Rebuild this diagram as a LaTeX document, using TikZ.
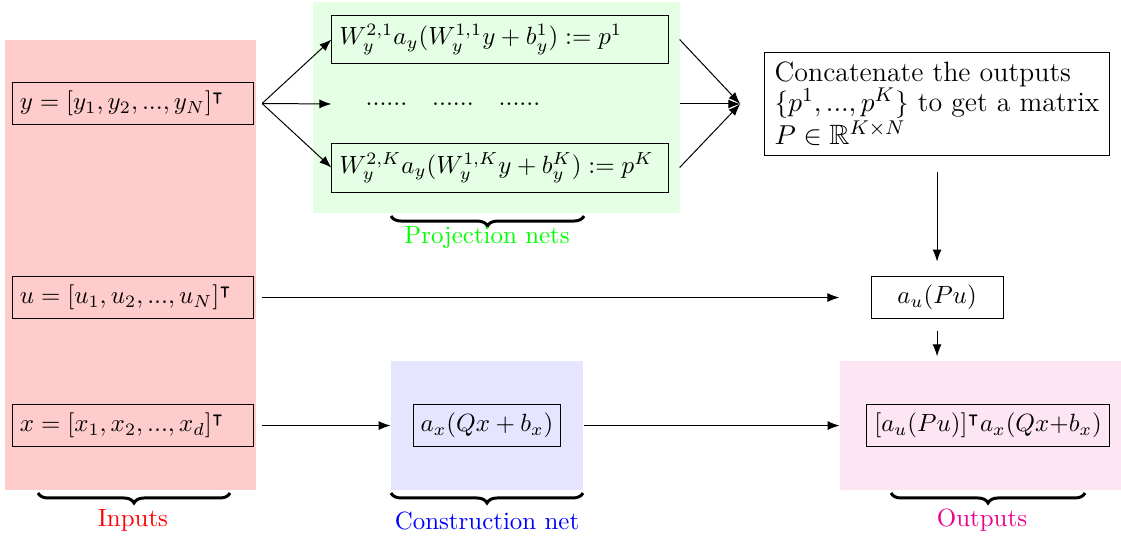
\documentclass[tikz,border=0pt]{standalone}
\usepackage{amsmath,amssymb}
\usepackage{xcolor}
\usepackage{tikz}
\usetikzlibrary{positioning,arrows.meta,decorations.pathreplacing}
\definecolor{outpink}{RGB}{236,0,140}

\begin{document}
\begin{tikzpicture}[
  box/.style={draw, minimum height=5.8mm, inner sep=3pt},
  inbox/.style={box, text width=31.9mm, align=left},
  projbox/.style={box, text width=45.3mm, minimum height=6.9mm, align=left},
  bg/.style={fill=#1, inner sep=0pt},
  arr/.style={-Latex},
  brc/.style={decorate, decoration={brace, amplitude=4pt}, very thick},
]
\useasboundingbox (0,0) rectangle (15.806,-7.586);

% coloured groups
\node[bg=red!20, minimum width=35.39mm, minimum height=63.45mm] (inbg) at (1.840,-3.737) {};
\node[bg=green!10, minimum width=51.75mm, minimum height=29.75mm] (projbg) at (7.001,-1.516) {};
\node[bg=blue!10, minimum width=27.07mm, minimum height=18.19mm] (consbg) at (6.867,-6.0) {};
\node[bg=outpink!10, minimum width=39.62mm, minimum height=18.19mm] (outbg) at (13.825,-6.0) {};

\node[inbox] (y) at (1.875,-1.459) {$y=[y_1,y_2,...,y_N]^\intercal$};
\node[inbox] (u) at (1.875,-4.195) {$u=[u_1,u_2,...,u_N]^\intercal$};
\node[inbox] (x) at (1.875,-6.0) {$x=[x_1,x_2,...,x_d]^\intercal$};

\node[projbox] (p1) at (7.05,-0.557)
  {$W_y^{2,1}a_y(W_y^{1,1}y+b_y^1):=p^1$};
\node (dots) at (6.387,-1.466) {......\quad......\quad......};
\node[projbox] (pK) at (7.05,-2.362)
  {$W_y^{2,K}a_y(W_y^{1,K}y+b_y^K):=p^K$};

\node[box, inner sep=4pt, minimum width=47.66mm, align=left,
      font=\fontsize{11.2}{12}\selectfont] (concat) at (13.212,-1.466)
  {Concatenate the outputs\\
   $\{p^1,...,p^K\}$ to get a matrix\\
   $P\in\mathbb{R}^{K\times N}$};
\node[box, minimum width=18.6mm] (au) at (13.212,-4.195) {$a_u(Pu)$};

\node[box] (cons) at (6.867,-6.0) {$a_x(Qx+b_x)$};
\node[box, minimum width=34.3mm] (out) at (13.931,-6.0)
  {$[a_u(Pu)]^\intercal a_x(Qx{+}b_x)$};

% fan out / fan in
\coordinate[right=0.113cm of y] (yfork);
\draw[arr] (yfork) -- (p1.west);
\draw[arr] (yfork) -- (p1.west |- dots);
\draw[arr] (yfork) -- (pK.west);

\coordinate[left=0.338cm of concat] (merge);
\coordinate[right=0.155cm of p1] (p1out);
\coordinate[right=0.155cm of pK] (pKout);
\draw[arr] (p1out) -- (merge);
\draw[arr] (p1out |- dots) -- (merge);
\draw[arr] (pKout) -- (merge);

\draw[arr, shorten <=2.2mm, shorten >=2.1mm] (concat) -- (au);
\draw[arr, shorten <=1.1mm, shorten >=4.4mm] (u) -- (au);
\draw[arr, shorten <=1.7mm, shorten >=0.6mm] (au) -- (au.south |- outbg.north);
\draw[arr, shorten <=1.1mm] (x) -- (x -| consbg.west);
\draw[arr] (cons -| consbg.east) -- (cons -| outbg.west);

% braces
\draw[brc] (3.243,-6.951) -- (0.536,-6.951);
\draw[brc] (8.234,-3.046) -- (5.513,-3.046);
\draw[brc] (8.220,-6.951) -- (5.513,-6.951);
\draw[brc] (15.299,-6.951) -- (12.563,-6.951);

\node[text=red] (inlab) at (1.875,-7.332) {Inputs};
\node[text=green] (projlab) at (6.867,-3.356) {Projection nets};
\node[text=blue] (conslab) at (6.867,-7.346) {Construction net};
\node[text=outpink] (outlab) at (13.846,-7.332) {Outputs};

\end{tikzpicture}
\end{document}
